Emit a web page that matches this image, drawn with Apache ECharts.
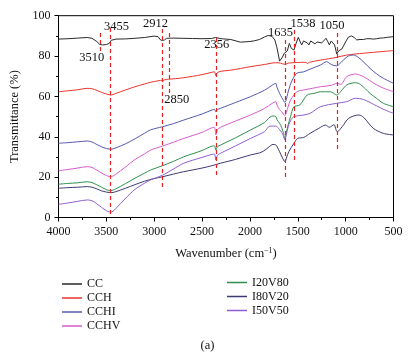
<!DOCTYPE html>
<html><head><meta charset="utf-8">
<script src="https://cdn.jsdelivr.net/npm/echarts@6/dist/echarts.min.js"></script>
<style>html,body{margin:0;padding:0;background:#fff}#c{width:415px;height:355px}</style>
</head><body><div id="c"></div>
<script>
// ---- data ----
const seriesNames = ['CC','CCH','CCHI','CCHV','I20V80','I80V20','I50V50'];

const ccWn = [4000,3900,3800,3700,3650,3600,3570,3540,3500,3470,3450,3430,3400,3300,3200,3100,3000,2960,2930,2912,2895,2870,2800,2700,2600,2500,2400,2360,2350,2300,2200,2100,2000,1950,1900,1850,1810,1770,1740,1720,1700,1690,1675,1660,1641,1625,1610,1588,1567,1540,1520,1494,1475,1459,1440,1420,1400,1384,1365,1350,1320,1300,1280,1250,1230,1205,1185,1170,1150,1135,1115,1093,1075,1059,1040,1017,995,972,940,910,884,850,814,780,745,710,676,640,606,560,500];
const ccT = [88.4,88.6,88.9,89.2,88.8,87.2,85.8,85.5,85.7,86.3,87.8,88.3,88.4,88.5,88.8,89.2,89.9,89.6,87.8,87.2,87.9,88.8,88.9,88.8,88.7,88.6,88.7,89.2,88.6,88.6,88.2,86.9,87.2,87.6,88.2,89.4,90.2,89.8,88,84.6,80,77.5,77.0,79.5,81.4,80.5,82.5,86.3,83.8,83,86,89.3,87,85.5,87.5,88.3,86.5,85.5,87.5,88.3,86,87,87.3,86.5,87.5,88.8,87,85.5,87.5,88,85.5,81,82.5,83,83.5,85.5,87.5,89.3,90,89.2,88,88.2,88.2,88.6,88.6,88.4,88.6,88.9,89,89.3,89.6];

const cchWn = [4000,3900,3800,3700,3650,3600,3550,3500,3470,3455,3430,3400,3300,3200,3100,3039,2950,2920,2912,2895,2850,2700,2500,2395,2370,2356,2340,2300,2200,2000,1850,1730,1680,1635,1600,1500,1437,1410,1400,1380,1262,1100,988,814,600,500];
const cchT = [62.3,62.8,63.3,64,63.8,63,62,61.2,60.8,60.7,60.9,61.5,63.2,64.8,66.2,67,67.8,68,67.3,68.2,68.5,69.2,70.8,72,72.2,70.3,71.8,72.5,73,74.7,75.8,76.7,76.5,75.9,76.5,76.8,76.9,76.8,76.2,76.9,78,79.3,80.5,81.4,82.3,82.7];

const cchiWn = [4000,3900,3800,3700,3650,3600,3550,3500,3470,3455,3430,3400,3300,3200,3100,3039,2912,2800,2691,2500,2395,2370,2356,2340,2307,2150,1994,1850,1760,1730,1717,1690,1668,1650,1635,1620,1605,1580,1558,1510,1437,1372,1262,1200,1150,1093,1036,972,920,868,800,745,680,606,500];
const cchiT = [36.8,37.1,37.5,37.9,37.4,36.2,35,34.2,33.9,33.8,34,34.5,36.5,39,41.8,43.4,45,46.5,48.3,51.3,53.3,53.5,52.4,53.5,54.1,57,59.9,63,65.8,66.5,64.5,61.5,59.5,58,57,58.5,61.5,65.5,68.1,71.5,72.2,73.5,75.6,77.2,75.8,75.1,77.5,80,80.5,79.4,76.5,73.9,71.3,69,66.5];

const cchvWn = [4000,3900,3800,3700,3650,3600,3550,3500,3470,3455,3430,3400,3300,3200,3100,3039,2912,2800,2691,2500,2395,2370,2356,2340,2307,2150,1994,1850,1760,1730,1717,1690,1668,1650,1635,1620,1600,1576,1510,1437,1350,1262,1150,1093,1050,988,897,814,745,676,600,500];
const cchvT = [23.2,23.8,24.5,25.2,24.8,23.5,22,20.8,20.3,20.2,20.6,21.5,25,28.8,31.5,33.4,35.4,37.3,39.2,42.2,44.5,44.6,40.9,43.5,44.7,47.8,50.8,54,56.8,57.4,55.7,53.5,52.4,51.2,50.5,52,55,58.2,62.3,63.2,64,64.8,65.5,66.5,66,69.8,71.1,69.8,67.8,65.7,64,62.3];

const i20v80Wn = [4000,3900,3800,3700,3650,3600,3550,3500,3470,3455,3430,3400,3300,3200,3100,3039,2912,2800,2691,2500,2395,2370,2356,2340,2307,2150,1994,1850,1790,1760,1730,1717,1690,1668,1650,1635,1620,1600,1576,1540,1480,1402,1330,1262,1160,1093,1050,988,897,844,745,676,606,500];
const i20v80T = [16.5,16.9,17.2,17.7,17.3,16.2,15,13.8,13.4,13.3,13.6,14.2,16.8,19.5,22,23.5,25.7,27.8,30.1,33.2,35.4,35.5,33.4,35,35.9,39.5,43.4,47,49.8,50.3,50,48.5,46.7,44.5,42,39,42,46,50,54.9,55.7,60.7,61.5,62.3,62.3,60.7,62.5,65.7,66.8,65.9,61.5,59,56.6,54.9];

const i80v20Wn = [4000,3900,3800,3700,3650,3600,3550,3500,3470,3455,3430,3400,3300,3200,3100,3000,2912,2800,2691,2500,2395,2307,2150,1994,1900,1855,1800,1760,1730,1717,1690,1660,1635,1615,1594,1540,1500,1437,1372,1280,1210,1170,1123,1088,1036,967,862,810,711,606,500];
const i80v20T = [14.5,14.8,15,15.3,15,14.2,13.2,12.6,12.4,12.3,12.4,12.8,14.5,16.3,18,19.3,20.2,21.5,22.7,24.5,25.7,26.9,28.8,31,32,33,35,36.2,36,35.1,32.6,29.5,27.7,30,32.6,36.8,39.2,39.7,41.7,44.2,45.8,44.7,46,42.5,45,49.2,50.8,49.5,44.2,41.7,40.9];

const i50v50Wn = [4000,3900,3800,3700,3650,3600,3550,3500,3470,3455,3430,3400,3300,3200,3100,3039,2912,2800,2691,2500,2395,2370,2356,2340,2307,2150,1994,1850,1790,1730,1690,1668,1650,1635,1620,1600,1570,1540,1437,1372,1262,1093,988,897,814,676,600,500];
const i50v50T = [6.5,7.2,8,8.7,8.3,6.8,5,3.4,2.8,2.6,3.1,4.5,9.5,14,17,18.6,21,24,26.9,29.8,31.3,31.4,28.5,30.8,31.8,35.5,39.2,42.5,45.3,45.3,43.5,42.2,40.5,38.4,41,45,48.5,50,50.8,51.6,54.9,56.6,57.4,59.1,58.5,55.3,53.5,51.6];

// peak annotations (data coordinates)
const peakLabels = ['3510','3455','2912','2850','2356','1635','1538','1050'];
const peakLineX = [3566,3462,2915,2842,2356,1635,1538,1090];
const peakLineTop = [91.4,93.9,93.4,91.4,88.9,88,92.9,91.4];
const peakLineBottom = [82,1.2,13.6,60.7,21.1,19.6,27.5,33];
const peakLabelX = [3653,3394,2986,2765,2347,1680,1445,1142];
const peakLabelY = [79,94.5,95.9,58.2,85.5,91.4,96.2,94.9];

const xTicks = {min:500, max:4000, step:500};
const yTicks = {min:0, max:100, step:20};

// ---- chart ----
const FONT = 'Liberation Serif';
const colors = ['#2a2a2a','#e8352b','#5558ad','#d45ccb','#2f8f4e','#3d3a72','#8d5fcf'];
const wnList = [ccWn,cchWn,cchiWn,cchvWn,i20v80Wn,i80v20Wn,i50v50Wn];
const tList = [ccT,cchT,cchiT,cchvT,i20v80T,i80v20T,i50v50T];

const series = seriesNames.map((n,i)=>({
  name:n, type:'line', showSymbol:false, symbol:'none',
  smooth: i===0 ? false : 0.3,
  data: wnList[i].map((w,k)=>[w,tList[i][k]]),
  lineStyle:{width:1, color:colors[i]}, itemStyle:{color:colors[i]},
  z: 2
}));

series.push({
  name:'peaks', type:'line', data:[], silent:true,
  markLine:{
    silent:true, symbol:['none','none'], animation:false,
    lineStyle:{color:'#e52222', type:[4,3], width:1.2},
    label:{show:false},
    data: peakLineX.map((x,i)=>[{coord:[x,peakLineTop[i]]},{coord:[x,peakLineBottom[i]]}])
  },
  markPoint:{
    silent:true, symbol:'circle', symbolSize:1, animation:false,
    itemStyle:{color:'rgba(0,0,0,0)'},
    label:{show:true, position:'inside', color:'#111', fontFamily:FONT, fontSize:12.5},
    data: peakLabelX.map((x,i)=>({coord:[x,peakLabelY[i]], value:peakLabels[i], label:{formatter:peakLabels[i]}}))
  }
});

const chart = echarts.init(document.getElementById('c'), null, {renderer:'canvas'});
chart.setOption({
  animation:false,
  backgroundColor:'#fff',
  grid:{left:58.5, right:21.5, top:15.7, bottom:137.5, show:true, borderColor:'#000', borderWidth:1, backgroundColor:'transparent'},
  xAxis:{
    type:'value', inverse:true, min:xTicks.min, max:xTicks.max, interval:xTicks.step,
    name:'Wavenumber (cm{sup|−1})', nameLocation:'middle', nameGap:29,
    nameTextStyle:{fontFamily:FONT, fontSize:12.5, color:'#111',
      rich:{sup:{fontSize:8, fontFamily:FONT, color:'#111', padding:[0,0,7,0]}}},
    axisLine:{lineStyle:{color:'#000', width:1}},
    axisTick:{show:true, inside:false, length:4, lineStyle:{color:'#000'}},
    minorTick:{show:true, splitNumber:2, length:2.5, lineStyle:{color:'#000'}},
    splitLine:{show:false},
    axisLabel:{fontFamily:FONT, fontSize:12, color:'#111', margin:8, formatter:v=>String(v)}
  },
  yAxis:{
    type:'value', min:yTicks.min, max:yTicks.max, interval:yTicks.step,
    name:'Transmittance (%)', nameLocation:'middle', nameGap:29, nameRotate:90,
    nameTextStyle:{fontFamily:FONT, fontSize:12.5, color:'#111'},
    axisLine:{show:true, lineStyle:{color:'#000', width:1}},
    axisTick:{show:true, inside:false, length:4, lineStyle:{color:'#000'}},
    minorTick:{show:true, splitNumber:2, length:2.5, lineStyle:{color:'#000'}},
    splitLine:{show:false},
    axisLabel:{fontFamily:FONT, fontSize:12, color:'#111', margin:8}
  },
  legend:[
    {data:seriesNames.slice(0,4), orient:'vertical', left:57, top:272, itemWidth:20, itemHeight:1.5, itemGap:0, icon:'rect',
     textStyle:{fontFamily:FONT, fontSize:12, color:'#111', lineHeight:14}},
    {data:seriesNames.slice(4), orient:'vertical', left:222, top:270.5, itemWidth:20, itemHeight:1.5, itemGap:0, icon:'rect',
     textStyle:{fontFamily:FONT, fontSize:12, color:'#111', lineHeight:14}}
  ],
  graphic:[{type:'text', left:'center', top:339, style:{text:'(a)', fontFamily:FONT, fontSize:12.5, fill:'#111'}}],
  series: series
});
</script></body></html>
